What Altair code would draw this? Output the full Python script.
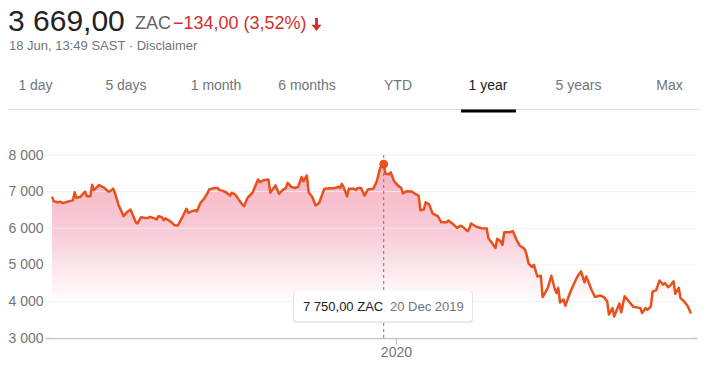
import altair as alt
import pandas as pd

# ---------------- data ----------------
START = "2019-06-18"
DAYS = [0, 1, 3, 5, 6, 8, 10, 12, 13, 14, 16, 19, 20, 22, 23, 24, 27, 30, 32, 33,
        35, 36, 38, 41, 43, 45, 47, 48, 49, 51, 53, 55, 56, 58, 60, 61, 63, 64, 65, 68,
        70, 72, 73, 75, 77, 78, 80, 82, 83, 85, 87, 89, 90, 93, 95, 96, 98, 100, 102, 103,
        105, 107, 109, 110, 112, 115, 118, 119, 121, 124, 125, 128, 130, 132, 134, 135, 137, 139, 141, 143,
        144, 146, 147, 149, 151, 153, 156, 159, 162, 164, 165, 166, 167, 169, 170, 173, 174, 175, 177, 179,
        181, 184, 186, 188, 190, 191, 193, 194, 196, 198, 200, 201, 203, 206, 208, 210, 211, 213, 214, 216,
        218, 221, 223, 226, 227, 230, 232, 234, 235, 238, 239, 240, 243, 246, 249, 250, 252, 254, 255, 257,
        258, 259, 262, 264, 266, 268, 270, 271, 272, 273, 275, 276, 278, 280, 281, 284, 286, 288, 289, 290,
        291, 293, 294, 297, 300, 301, 303, 305, 306, 309, 311, 314, 316, 318, 319, 321, 322, 325, 326, 328,
        333, 337, 338, 340, 341, 343, 344, 346, 348, 350, 351, 353, 354, 356, 357, 359, 360, 362, 364, 366]
PRICES = [6860, 6740, 6710, 6720, 6690, 6710, 6740, 6760, 6980, 6830, 6850, 7000, 6870, 6870, 7190, 7040, 7180, 7100, 7010, 7000,
          7080, 6970, 6650, 6330, 6440, 6510, 6280, 6160, 6130, 6300, 6280, 6280, 6310, 6280, 6240, 6330, 6300, 6220, 6270, 6180,
          6090, 6070, 6150, 6330, 6530, 6420, 6460, 6490, 6460, 6690, 6800, 6950, 7060, 7100, 7100, 7040, 7020, 6970, 6890, 6970,
          6920, 6780, 6650, 6600, 6830, 6980, 7330, 7260, 7310, 7330, 6970, 7170, 6940, 7040, 7100, 7240, 7130, 7100, 7130, 7400,
          7280, 7440, 6980, 6860, 6620, 6690, 7080, 7090, 7100, 7130, 7100, 7210, 7130, 6870, 7080, 7080, 7040, 7100, 7100, 6890,
          7060, 7080, 7280, 7650, 7750, 7490, 7470, 7530, 7280, 7170, 7100, 6950, 7010, 7000, 6940, 6890, 6490, 6510, 6710, 6650,
          6400, 6330, 6160, 6160, 6210, 6100, 6010, 6070, 6050, 5920, 5980, 6130, 6040, 6000, 5990, 5720, 5600, 5460, 5710, 5640,
          5540, 5890, 5890, 5920, 5690, 5520, 5460, 5410, 5250, 5030, 4940, 5000, 4680, 4700, 4120, 4370, 4700, 4340, 4230, 4370,
          3970, 4050, 3880, 4270, 4590, 4680, 4820, 4520, 4680, 4320, 4120, 4160, 4120, 4000, 3640, 3820, 3590, 3940, 3700, 4140,
          3850, 3820, 3680, 3820, 3770, 3860, 4270, 4300, 4570, 4460, 4500, 4390, 4430, 4550, 4210, 4370, 4090, 4000, 3880, 3669]
Y_TICKS = [3000, 4000, 5000, 6000, 7000, 8000]
TABS = ["1 day", "5 days", "1 month", "6 months", "YTD", "1 year", "5 years", "Max"]
SELECTED_TAB = "1 year"
PRICE_TEXT = "3 669,00"
CURRENCY = "ZAC"
CHANGE_TEXT = "\u2212134,00 (3,52%)"
STAMP_TEXT = "18 Jun, 13:49 SAST \u00b7 Disclaimer"
PEAK_DATE_TEXT = "20 Dec 2019"

# ---------------- layout / style ----------------
FONT = "Arial, Liberation Sans, Helvetica, sans-serif"
PLOT_LEFT, PLOT_TOP = 45, 155     # page coords of the plot origin
W, H = 652, 183
TAB_X = [35.5, 126, 216, 307, 398, 488, 578.5, 669.5]
LINE_COLOR = "#e8501c"
RED = "#d0312d"
GRAY = "#70757a"
DARK = "#202124"

dates = (pd.Timestamp(START) + pd.to_timedelta(DAYS, unit="D")).strftime("%Y-%m-%d")
df = pd.DataFrame({"date": list(dates), "price": PRICES})
peak_df = df.loc[[df["price"].idxmax()]]

X = alt.X("date:T",
          scale=alt.Scale(type="utc",
                          domain=[alt.DateTime(year=2019, month=6, date=14, utc=True),
                                  alt.DateTime(year=2020, month=6, date=21, hours=10, minutes=30, utc=True)]),
          axis=alt.Axis(values=[alt.DateTime(year=2020, month=1, date=1, utc=True)], format="%Y",
                        grid=False, title=None, domainColor="#c4c4c4", domainWidth=1.5,
                        tickColor="#bdbdbd", tickSize=6, labelFontSize=14, labelColor=GRAY,
                        labelFont=FONT, labelPadding=1))
Y = alt.Y("price:Q",
          scale=alt.Scale(domain=[3000, 8000], zero=False, nice=False),
          axis=alt.Axis(values=Y_TICKS, grid=False, ticks=False, domain=False, title=None,
                        labelExpr="replace(format(datum.value, ','), ',', ' ')",
                        labelFontSize=14, labelColor=GRAY, labelFont=FONT, labelPadding=2))

base = alt.Chart(df).encode(x=X, y=Y)

gradient = alt.LinearGradient(
    gradient="linear",
    stops=[alt.GradientStop(color="#f6b1c2", offset=0),
           alt.GradientStop(color="#f9cdd8", offset=0.4),
           alt.GradientStop(color="#ffffff", offset=0.8)],
    x1=1, x2=1, y1=0, y2=1)

area = base.mark_area(color=gradient).encode(y2=alt.datum(3000))
grid = alt.Chart(pd.DataFrame({"price": Y_TICKS[1:]})).mark_rule(
    color="#eeeeee", strokeWidth=1, opacity=0.9).encode(
    y=Y, x=alt.value(0), x2=alt.value(W))
line = base.mark_line(color=LINE_COLOR, strokeWidth=2.5, strokeJoin="round")
vrule = alt.Chart(peak_df).mark_rule(color="#777777", strokeDash=[3, 3], strokeWidth=1).encode(
    x=X, y=alt.value(0), y2=alt.value(H))
dot = alt.Chart(peak_df).mark_circle(size=75, color=LINE_COLOR, opacity=1).encode(x=X, y=Y)


def px(x):
    return x - PLOT_LEFT


def py(y):
    return y - PLOT_TOP


def txt(s, x, y, size, color, align="left", baseline="alphabetic", weight="normal"):
    return alt.Chart(pd.DataFrame({"t": [s]})).mark_text(
        align=align, baseline=baseline, fontSize=size, color=color, font=FONT,
        fontWeight=weight).encode(x=alt.value(px(x)), y=alt.value(py(y)), text="t:N")


def box(x1, x2, y1, y2, color, opacity=1.0, radius=0):
    return alt.Chart(pd.DataFrame({"k": [0]})).mark_rect(
        color=color, opacity=opacity, cornerRadius=radius).encode(
        x=alt.value(px(x1)), x2=alt.value(px(x2)), y=alt.value(py(y1)), y2=alt.value(py(y2)))


peak_val = int(peak_df["price"].iloc[0])
peak_text = f"{peak_val:,.2f}".replace(",", " ").replace(".", ",") + " " + CURRENCY

tooltip = [
    box(293, 473, 291, 323, "#000000", 0.06, 3),
    box(293.5, 472.5, 291, 322.5, "#000000", 0.08, 3),
    box(294, 472, 291, 321.5, "#ffffff", 1, 3),
    txt(peak_text, 303, 311, 13, DARK),
    txt(PEAK_DATE_TEXT, 390, 311, 13, GRAY),
]

header = [
    txt(PRICE_TEXT, 8, 31, 30, "#222222"),
    txt(CURRENCY, 135, 29, 18, "#5f6368"),
    txt(CHANGE_TEXT, 173, 29, 18, RED),
    alt.Chart(pd.DataFrame({"k": [0]})).mark_point(
        shape="M-0.22,-1L0.22,-1L0.22,0.05L0.78,0.05L0,1L-0.78,0.05L-0.22,0.05Z",
        filled=True, size=169, color=RED, opacity=1, strokeWidth=0).encode(
        x=alt.value(px(316.5)), y=alt.value(py(24.5))),
    txt(STAMP_TEXT, 9, 50, 13, GRAY),
    alt.Chart(pd.DataFrame({"k": [0]})).mark_rule(color="#e0e0e0", strokeWidth=1).encode(
        x=alt.value(px(0)), x2=alt.value(px(708)), y=alt.value(py(109.5))),
    box(461, 516, 109.5, 112.5, "#000000", 1, 0),
]
for name, cx in zip(TABS, TAB_X):
    header.append(txt(name, cx, 86, 14, DARK if name == SELECTED_TAB else GRAY,
                      align="center", baseline="middle"))

chart = alt.layer(area, grid, line, vrule, dot, *tooltip, *header).properties(
    width=W, height=H,
    autosize=alt.AutoSizeParams(type="none"),
    padding={"left": PLOT_LEFT - 8, "top": PLOT_TOP - 8, "right": 3, "bottom": 24},
    background="white",
).configure_view(strokeWidth=0)

chart.save("out.html", embed_options={"renderer": "svg", "actions": False})
